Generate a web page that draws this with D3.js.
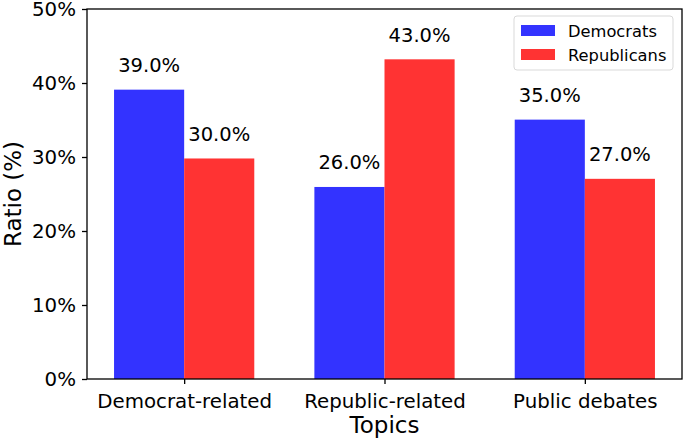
<!DOCTYPE html>
<html>
<head>
<meta charset="utf-8">
<style>
  body { margin: 0; background: #fff; }
  text { font-family: "DejaVu Sans", sans-serif; fill: #000; }
</style>
</head>
<body>
<div id="chart"></div>
<script src="https://cdn.jsdelivr.net/npm/d3@7"></script>
<script>
// ---- data ----
var topics = ["Democrat-related", "Republic-related", "Public debates"];
var democrats = [39.1, 25.95, 35.05];
var republicans = [29.8, 43.2, 27.05];
var demLabels = ["39.0%", "26.0%", "35.0%"];
var repLabels = ["30.0%", "43.0%", "27.0%"];
var yTicks = [0, 10, 20, 30, 40, 50];

var W = 685, H = 441;
var margin = {top: 9, right: 3, bottom: 62, left: 87};
var width = W - margin.left - margin.right,
    height = H - margin.top - margin.bottom;

var svg = d3.select("#chart").append("svg")
    .attr("width", W).attr("height", H);
var g = svg.append("g")
    .attr("transform", "translate(" + [margin.left, margin.top] + ")");

// matplotlib style: bars at i -/+ 0.175, width 0.35, xlim -0.485..2.485
var x = d3.scaleLinear().domain([-0.485, 2.485]).range([0, width]);
var y = d3.scaleLinear().domain([0, 50]).range([height, 0]);
var bw = x(0.35) - x(0);

var series = [
  {name: "Democrats", values: democrats, labels: demLabels, color: "#3333ff", off: -0.175},
  {name: "Republicans", values: republicans, labels: repLabels, color: "#ff3333", off: 0.175}
];

series.forEach(function(s) {
  g.selectAll(null)
    .data(s.values)
    .enter()
    .append("rect")
    .attr("x", function(d, i){ return x(i + s.off) - bw / 2; })
    .attr("y", function(d){ return y(d); })
    .attr("width", bw)
    .attr("height", function(d){ return height - y(d); })
    .attr("fill", s.color);

  g.selectAll(null)
    .data(s.values)
    .enter()
    .append("text")
    .attr("x", function(d, i){ return x(i + s.off); })
    .attr("y", function(d){ return y(d) - 17.5; })
    .attr("text-anchor", "middle")
    .style("font-size", "19.5px")
    .text(function(d, i){ return s.labels[i]; });
});

// axes
var yAxis = d3.axisLeft(y).tickValues(yTicks)
    .tickFormat(function(d){ return d + "%"; }).tickSize(5).tickPadding(6);
var xAxis = d3.axisBottom(x).tickValues([0, 1, 2])
    .tickFormat(function(d){ return topics[d]; }).tickSize(5).tickPadding(6);

var ya = g.append("g").call(yAxis);
var xa = g.append("g").attr("transform", "translate(0," + height + ")").call(xAxis);
[ya, xa].forEach(function(a) {
  a.select(".domain").remove();
  a.selectAll("line").attr("stroke", "#000").attr("stroke-width", 1.3);
  a.selectAll("text").style("font-size", "19.8px").style("font-family", "DejaVu Sans");
});
xa.selectAll("text").attr("dy", "0.93em");

// frame
g.append("rect")
  .attr("width", width).attr("height", height)
  .attr("fill", "none").attr("stroke", "#000").attr("stroke-width", 1.3);

// axis labels
svg.append("text")
  .attr("x", margin.left + x(1)).attr("y", 433)
  .attr("text-anchor", "middle")
  .style("font-size", "23px")
  .text("Topics");

svg.append("text")
  .attr("transform", "translate(21," + (margin.top + height / 2) + ") rotate(-90)")
  .attr("text-anchor", "middle")
  .style("font-size", "23px")
  .text("Ratio (%)");

// legend
var lg = svg.append("g").attr("transform", "translate(514,16)");
lg.append("rect")
  .attr("width", 159).attr("height", 54).attr("rx", 3)
  .attr("fill", "#fff").attr("fill-opacity", 0.8)
  .attr("stroke", "#d9d9d9").attr("stroke-width", 1);
series.forEach(function(s, i) {
  lg.append("rect")
    .attr("x", 7).attr("y", 9 + i * 24)
    .attr("width", 34).attr("height", 11)
    .attr("fill", s.color);
  lg.append("text")
    .attr("x", 54).attr("y", 15 + i * 24)
    .attr("dy", "0.35em")
    .style("font-size", "16.3px")
    .text(s.name);
});
</script>
</body>
</html>
